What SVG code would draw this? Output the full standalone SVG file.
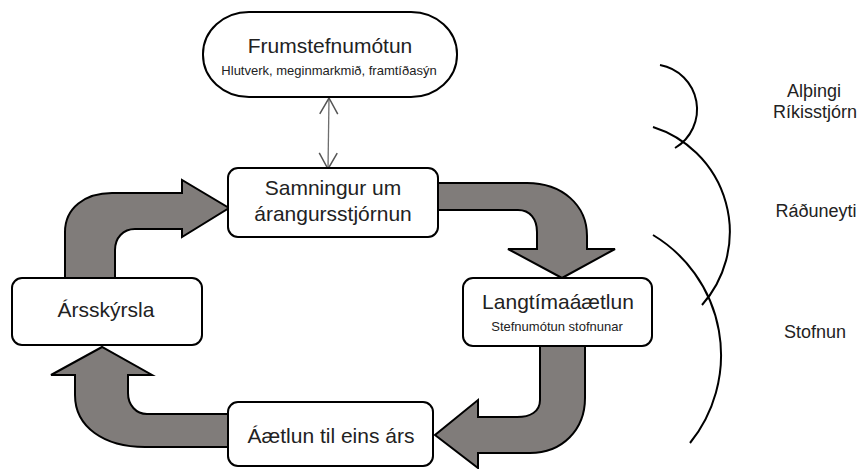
<svg xmlns="http://www.w3.org/2000/svg" width="861" height="469" viewBox="0 0 861 469">
<style>
  text { font-family: "Liberation Sans", Arial, sans-serif; fill: #222; text-anchor: middle; }
  .big { font-size: 21px; }
  .sub { font-size: 13px; }
  .lbl { font-size: 18px; }
  .box { fill: #fff; stroke: #000; stroke-width: 2; }
  .flow { fill: #807c7a; stroke: #000; stroke-width: 2; stroke-linejoin: miter; }
  .link { stroke: #6e6e6e; stroke-width: 1.3; fill: none; }
  .arc { stroke: #000; stroke-width: 2; fill: none; }
</style>
<defs>
  <marker id="open" viewBox="0 0 20 20" refX="18" refY="10" markerWidth="20" markerHeight="20" markerUnits="userSpaceOnUse" orient="auto-start-reverse">
    <path d="M2,1 L18,10 L2,19" fill="none" stroke="#555" stroke-width="1.5"/>
  </marker>
</defs>

<g id="connectors">
  <path id="arrow-samningur-langtima" class="flow" d="M436,183 L527,183 C562,183 587,205 587,236 L587,249 L615,249 L562,278 L508,249 L537,249 L537,232 C537,219 530,210 518,210 L436,210 Z"/>
  <path id="arrow-langtima-aaetlun" class="flow" d="M540,344 L540,400 C540,412 530,417 517,417 L478,417 L478,400 L435,435 L478,468 L478,453 L530,453 C562,453 585,430 585,398 L585,344 Z"/>
  <path id="arrow-aaetlun-arsskyrsla" class="flow" d="M230,414 L147,414 C136,414 128,405 128,393 L128,375 L152,375 L102,347 L51,375 L75,375 L75,395 C75,427 104,447 145,447 L230,447 Z"/>
  <path id="arrow-arsskyrsla-samningur" class="flow" d="M65,280 L65,232 C65,208 85,193 112,193 L182,193 L182,180 L229,208 L182,237 L182,229 L135,229 C123,229 115,238 115,250 L115,280 Z"/>
  <line id="link-frum-samningur" class="link" x1="329" y1="98" x2="328" y2="169" marker-start="url(#open)" marker-end="url(#open)"/>
</g>

<g id="frumstefnumotun">
  <rect class="box" x="203" y="12" width="254" height="85" rx="46" ry="42"/>
  <text class="big" x="330" y="53">Frumstefnumótun</text>
  <text class="sub" x="329" y="75">Hlutverk, meginmarkmið, framtíðasýn</text>
</g>

<g id="samningur">
  <rect class="box" x="228" y="168" width="210" height="69" rx="10"/>
  <text class="big" x="333" y="195">Samningur um</text>
  <text class="big" x="333" y="221">árangursstjórnun</text>
</g>

<g id="langtimaaaetlun">
  <rect class="box" x="463" y="278" width="189" height="68" rx="10"/>
  <text class="big" x="558" y="309">Langtímaáætlun</text>
  <text class="sub" x="557" y="331">Stefnumótun stofnunar</text>
</g>

<g id="arsskyrsla">
  <rect class="box" x="12" y="278" width="190" height="67" rx="10"/>
  <text class="big" x="106" y="317">Ársskýrsla</text>
</g>

<g id="aaetlun">
  <rect class="box" x="228" y="402" width="205" height="64" rx="10"/>
  <text class="big" x="331" y="443">Áætlun til eins árs</text>
</g>

<g id="levels">
  <path class="arc" d="M660,65 A45,45 0 0 1 675,148"/>
  <path class="arc" d="M653,127 A110,110 0 0 1 702,305"/>
  <path class="arc" d="M653,235 A140,140 0 0 1 690,443"/>
  <text class="lbl" x="814" y="97">Alþingi</text>
  <text class="lbl" x="815" y="118">Ríkisstjórn</text>
  <text class="lbl" x="816" y="217">Ráðuneyti</text>
  <text class="lbl" x="815" y="338">Stofnun</text>
</g>
</svg>
